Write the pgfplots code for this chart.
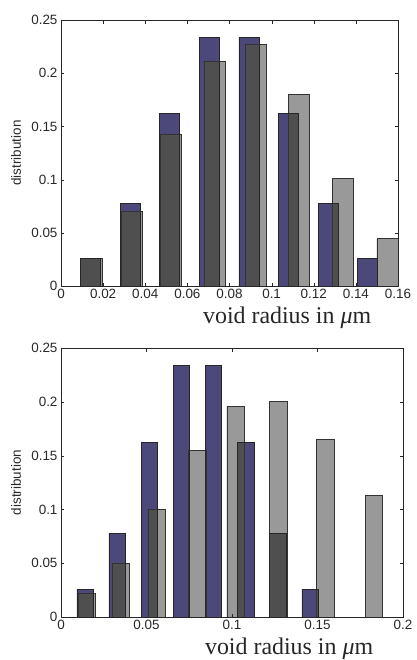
\documentclass[border=0pt]{standalone}
\usepackage{pgfplots}
\pgfplotsset{compat=1.18}
\usepackage{fontspec}
\setmainfont{Liberation Sans}
\newfontfamily\timesfont{Liberation Serif}
\definecolor{barblue}{RGB}{76,72,122}
\definecolor{txt}{RGB}{40,40,40}

\pgfplotsset{
  hist/.style={
    scale only axis,
    xmin=0, ymin=0, ymax=0.25,
    ytick={0,0.05,0.1,0.15,0.2,0.25},
    yticklabels={0,0.05,0.1,0.15,0.2,0.25},
    tick label style={font=\fontsize{13.5}{13.5}\selectfont, text=txt},
    /pgf/number format/assume math mode=true,
    axis line style={black!85},
    major tick length=3.5bp,
    tick style={black!85},
    ylabel={distribution},
    ylabel style={font=\fontsize{13.5}{13.5}\selectfont, text=txt, anchor=center},
    xlabel={void radius in \textit{μ}m},
    xlabel style={font=\timesfont\fontsize{24}{24}\selectfont, text=black!85, anchor=base, yshift=-37bp},
  },
  bluebar/.style={ybar, bar shift=0pt, bar width=0.0095, fill=barblue,
    draw=black!85, line width=0.6pt},
  % gray bars: first pass removes the colour beneath, second pass darkens to gray
  graysat/.style={ybar, bar shift=0pt, fill=black!40, draw=none, blend mode=saturation},
  graybar/.style={ybar, bar shift=0pt, fill=black!40, blend mode=darken,
    draw=black!80, line width=0.6pt},
}

\begin{document}
\begin{tikzpicture}
\useasboundingbox (-61bp,-374bp) rectangle (356bp,286bp);

\pgfplotstableread{
x       y
0.0144  0.026
0.0334  0.070
0.0521  0.143
0.0732  0.211
0.0927  0.227
0.1131  0.180
0.1339  0.101
0.1550  0.0445
}\graytop
\pgfplotstableread{
x       y
0.0150  0.0217
0.0350  0.0496
0.0560  0.0998
0.0796  0.1546
0.1022  0.1955
0.1272  0.2004
0.1546  0.165
0.1830  0.1128
}\graybottom
\pgfplotstableread{
x       y
0.0140  0.026
0.0328  0.078
0.0516  0.162
0.0704  0.234
0.0892  0.234
0.1080  0.162
0.1268  0.078
0.1456  0.026
}\blue

% upper panel
\begin{axis}[
    hist,
    at={(0,0)}, anchor=south west,
    width=337bp, height=266bp,
    xmax=0.16,
    xtick={0,0.02,0.04,0.06,0.08,0.1,0.12,0.14,0.16},
    xticklabels={0,0.02,0.04,0.06,0.08,0.1,0.12,0.14,0.16},
    ylabel style={at={(axis description cs:-0.1335,0.5)}},
    xlabel style={at={(axis description cs:0.671,0)}},
]
\addplot[bluebar] table {\blue};
\addplot[graysat, bar width=0.0100] table {\graytop};
\addplot[graybar, bar width=0.0100] table {\graytop};
\end{axis}

% lower panel
\begin{axis}[
    hist,
    at={(0,-331bp)}, anchor=south west,
    width=342bp, height=269bp,
    xmax=0.2,
    xtick={0,0.05,0.1,0.15,0.2},
    xticklabels={0,0.05,0.1,0.15,0.2},
    ylabel style={at={(axis description cs:-0.1316,0.5)}},
    xlabel style={at={(axis description cs:0.667,0)}},
]
\addplot[bluebar] table {\blue};
\addplot[graysat, bar width=0.0103] table {\graybottom};
\addplot[graybar, bar width=0.0103] table {\graybottom};
\end{axis}
\end{tikzpicture}
\end{document}
